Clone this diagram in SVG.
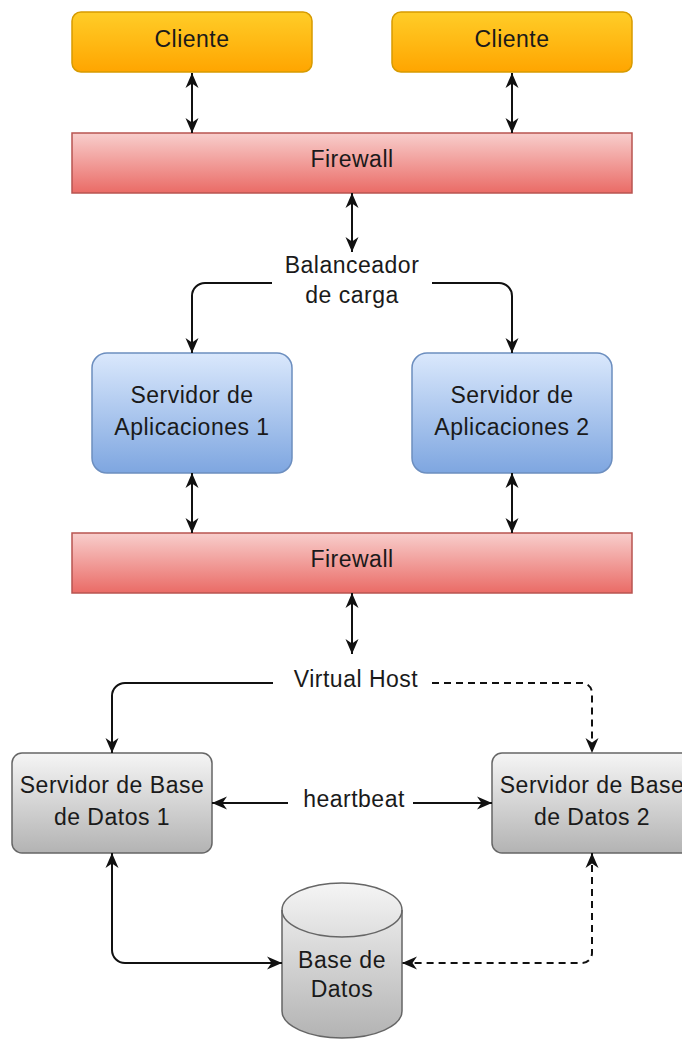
<svg xmlns="http://www.w3.org/2000/svg" width="682" height="1039" viewBox="0 0 682 1039">
  <style>
    .lbl { font-family: "Liberation Sans", Arial, sans-serif; font-size: 23px; letter-spacing: 0.5px; fill: #1a1a1a; text-anchor: middle; }
    .edge { fill: none; stroke: #111; stroke-width: 2; }
    .dash { stroke-dasharray: 7 5; }
    .client { fill: url(#gOrange); stroke: #d79b00; stroke-width: 1.5; }
    .fw { fill: url(#gRed); stroke: #b85450; stroke-width: 1.5; }
    .app { fill: url(#gBlue); stroke: #6c8ebf; stroke-width: 1.5; }
    .db { fill: url(#gGray); stroke: #666; stroke-width: 1.5; }
  </style>
  <defs>
    <linearGradient id="gOrange" x1="0" y1="0" x2="0" y2="1">
      <stop offset="0" stop-color="#ffcd28"/>
      <stop offset="1" stop-color="#ffa500"/>
    </linearGradient>
    <linearGradient id="gRed" x1="0" y1="0" x2="0" y2="1">
      <stop offset="0" stop-color="#f8cecc"/>
      <stop offset="1" stop-color="#ea6b66"/>
    </linearGradient>
    <linearGradient id="gBlue" x1="0" y1="0" x2="0" y2="1">
      <stop offset="0" stop-color="#dae8fc"/>
      <stop offset="1" stop-color="#7ea6e0"/>
    </linearGradient>
    <linearGradient id="gGray" x1="0" y1="0" x2="0" y2="1">
      <stop offset="0" stop-color="#f5f5f5"/>
      <stop offset="1" stop-color="#b3b3b3"/>
    </linearGradient>
    <!-- classic notched arrowhead, reused at both ends of the links -->
    <marker id="arrow" viewBox="0 0 16 16" refX="15" refY="8" markerWidth="16" markerHeight="16" markerUnits="userSpaceOnUse" orient="auto-start-reverse">
      <path d="M0,1.5 L15,8 L0,14.5 L4.5,8 z" fill="#111"/>
    </marker>
  </defs>

  <rect width="682" height="1039" fill="#fff"/>

  <!-- nodes -->
  <g id="cliente1">
    <rect class="client" x="72" y="12" width="240" height="60" rx="9"/>
    <text class="lbl" x="192" y="47">Cliente</text>
  </g>
  <g id="cliente2">
    <rect class="client" x="392" y="12" width="240" height="60" rx="9"/>
    <text class="lbl" x="512" y="47">Cliente</text>
  </g>
  <g id="firewall1">
    <rect class="fw" x="72" y="133" width="560" height="60"/>
    <text class="lbl" x="352" y="167">Firewall</text>
  </g>
  <g id="balanceador">
    <text class="lbl" x="352" y="273">Balanceador</text>
    <text class="lbl" x="352" y="303">de carga</text>
  </g>
  <g id="app1">
    <rect class="app" x="92" y="353" width="200" height="120" rx="15"/>
    <text class="lbl" x="192" y="403">Servidor de</text>
    <text class="lbl" x="192" y="435">Aplicaciones 1</text>
  </g>
  <g id="app2">
    <rect class="app" x="412" y="353" width="200" height="120" rx="15"/>
    <text class="lbl" x="512" y="403">Servidor de</text>
    <text class="lbl" x="512" y="435">Aplicaciones 2</text>
  </g>
  <g id="firewall2">
    <rect class="fw" x="72" y="533" width="560" height="60"/>
    <text class="lbl" x="352" y="567">Firewall</text>
  </g>
  <g id="virtualhost">
    <text class="lbl" x="356" y="687">Virtual Host</text>
  </g>
  <g id="dbserver1">
    <rect class="db" x="12" y="753" width="200" height="100" rx="10"/>
    <text class="lbl" x="112" y="793">Servidor de Base</text>
    <text class="lbl" x="112" y="825">de Datos 1</text>
  </g>
  <g id="dbserver2">
    <rect class="db" x="492" y="753" width="200" height="100" rx="10"/>
    <text class="lbl" x="592" y="793">Servidor de Base</text>
    <text class="lbl" x="592" y="825">de Datos 2</text>
  </g>
  <g id="heartbeat">
    <text class="lbl" x="354" y="807">heartbeat</text>
  </g>
  <g id="basedatos">
    <path class="db" d="M282,910 A60,27 0 0 1 402,910 V1011 A60,27 0 0 1 282,1011 Z"/>
    <path fill="none" stroke="#666" stroke-width="1.5" d="M282,910 A60,27 0 0 0 402,910"/>
    <text class="lbl" x="342" y="968">Base de</text>
    <text class="lbl" x="342" y="997">Datos</text>
  </g>

  <!-- connectors -->
  <g id="connectors">
    <path class="edge" d="M192,73 V133" marker-start="url(#arrow)" marker-end="url(#arrow)"/>
    <path class="edge" d="M512,73 V133" marker-start="url(#arrow)" marker-end="url(#arrow)"/>
    <path class="edge" d="M352,193 V252" marker-start="url(#arrow)" marker-end="url(#arrow)"/>
    <path class="edge" d="M272,283 H205 A13,13 0 0 0 192,296 V353" marker-end="url(#arrow)"/>
    <path class="edge" d="M432,283 H499 A13,13 0 0 1 512,296 V353" marker-end="url(#arrow)"/>
    <path class="edge" d="M192,473 V533" marker-start="url(#arrow)" marker-end="url(#arrow)"/>
    <path class="edge" d="M512,473 V533" marker-start="url(#arrow)" marker-end="url(#arrow)"/>
    <path class="edge" d="M352,593 V654" marker-start="url(#arrow)" marker-end="url(#arrow)"/>
    <path class="edge" d="M273,683 H125 A13,13 0 0 0 112,696 V753" marker-end="url(#arrow)"/>
    <path class="edge dash" d="M432,683 H582 A10,10 0 0 1 592,693 V753" marker-end="url(#arrow)"/>
    <path class="edge" d="M288,803 H212" marker-end="url(#arrow)"/>
    <path class="edge" d="M413,803 H492" marker-end="url(#arrow)"/>
    <path class="edge" d="M112,853 V950 A13,13 0 0 0 125,963 H282" marker-start="url(#arrow)" marker-end="url(#arrow)"/>
    <path class="edge dash" d="M592,853 V953 A10,10 0 0 1 582,963 H402" marker-start="url(#arrow)" marker-end="url(#arrow)"/>
  </g>
</svg>
